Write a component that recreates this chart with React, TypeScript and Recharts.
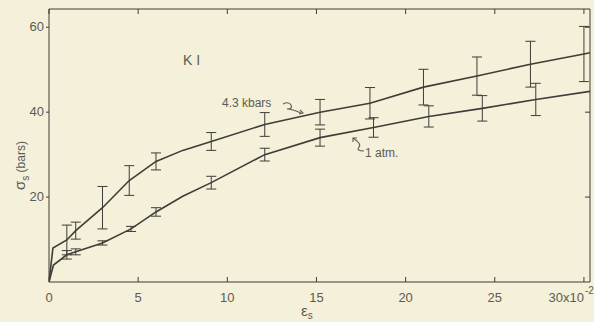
import { LineChart, Line, XAxis, YAxis, ErrorBar } from "recharts";

// strain (x10^-2) and stress (bars)
const highX = [0, 0.22, 1.0, 1.5, 3.0, 4.5, 6.0, 7.5, 9.1, 12.1, 15.2, 18.0, 21.0, 24.0, 27.0, 30.0, 30.34];
const highY = [0, 8.0, 9.9, 12.1, 17.5, 23.9, 28.4, 31.0, 33.1, 37.1, 40.0, 42.1, 45.9, 48.5, 51.3, 53.7, 54.0];
const highErr = [0, 0, 3.5, 2.0, 5.0, 3.5, 2.0, 0, 2.1, 2.8, 3.0, 3.7, 4.2, 4.5, 5.4, 6.5, 0];

const lowX = [0, 0.25, 1.0, 1.5, 3.0, 4.6, 6.0, 7.5, 9.1, 12.1, 15.2, 18.2, 21.3, 24.3, 27.3, 30.34];
const lowY = [0, 4.0, 6.4, 7.1, 9.2, 12.5, 16.5, 20.2, 23.4, 30.0, 34.0, 36.4, 39.0, 40.9, 43.0, 44.9];
const lowErr = [0, 0, 1.0, 0.7, 0.5, 0.6, 1.0, 0, 1.5, 1.5, 2.0, 2.3, 2.5, 3.0, 3.8, 0];

const xTicks = [0, 5, 10, 15, 20, 25, 30];
const yTicks = [20, 40, 60];

const high = highX.map((x, i) => ({ x, y: highY[i], err: highErr[i] }));
const low = lowX.map((x, i) => ({ x, y: lowY[i], err: lowErr[i] }));

const INK = "#3e3d37";
const TEXT = "#5c5b52";
const FONT = "'Liberation Sans', Arial, sans-serif";

const XTick = ({ x, y, payload }: any) => {
  if (payload.value === 30) {
    return (
      <g>
        <text x={x} y={y} textAnchor="end" dominantBaseline="hanging" fill={TEXT} fontSize={13} fontFamily={FONT}>
          30x10
        </text>
        <text x={x + 1} y={y - 5} textAnchor="start" dominantBaseline="hanging" fill={TEXT} fontSize={10} fontFamily={FONT}>
          -2
        </text>
      </g>
    );
  }
  return (
    <text x={x} y={y} textAnchor="middle" dominantBaseline="hanging" fill={TEXT} fontSize={13} fontFamily={FONT}>
      {payload.value}
    </text>
  );
};

const YTick = ({ x, y, payload }: any) => (
  <text x={x} y={y} textAnchor="end" dominantBaseline="middle" fill={TEXT} fontSize={13} fontFamily={FONT}>
    {payload.value}
  </text>
);

const NoTick = () => <g />;

export default function App() {
  return (
    <div
      style={{
        position: "fixed",
        left: 0,
        top: 0,
        width: 594,
        height: 322,
        background: "#f4f0da",
        overflow: "hidden",
      }}
    >
      <LineChart width={594} height={322} margin={{ top: 9, right: 4, left: 19, bottom: 0 }}>
        <XAxis
          xAxisId="b"
          type="number"
          dataKey="x"
          domain={[0, 30.34]}
          allowDataOverflow
          ticks={xTicks}
          interval={0}
          height={40}
          stroke={INK}
          tickSize={-5}
          tickMargin={15}
          tick={<XTick />}
        />
        <XAxis
          xAxisId="t"
          orientation="top"
          type="number"
          dataKey="x"
          domain={[0, 30.34]}
          allowDataOverflow
          ticks={xTicks}
          interval={0}
          height={1}
          mirror
          stroke={INK}
          tickSize={5}
          tick={<NoTick />}
        />
        <YAxis
          yAxisId="l"
          type="number"
          domain={[0, 64.3]}
          allowDataOverflow
          ticks={yTicks}
          interval={0}
          width={30}
          stroke={INK}
          tickSize={3}
          tickMargin={2}
          tick={<YTick />}
        />
        <YAxis
          yAxisId="r"
          orientation="right"
          type="number"
          domain={[0, 64.3]}
          allowDataOverflow
          ticks={yTicks}
          interval={0}
          width={1}
          mirror
          stroke={INK}
          tickSize={5}
          tick={<NoTick />}
        />
        <Line
          xAxisId="b"
          yAxisId="l"
          data={high}
          dataKey="y"
          type="linear"
          stroke={INK}
          strokeWidth={1.6}
          dot={false}
          isAnimationActive={false}
        >
          <ErrorBar dataKey="err" direction="y" width={5} stroke={INK} strokeWidth={1} />
        </Line>
        <Line
          xAxisId="b"
          yAxisId="l"
          data={low}
          dataKey="y"
          type="linear"
          stroke={INK}
          strokeWidth={1.6}
          dot={false}
          isAnimationActive={false}
        >
          <ErrorBar dataKey="err" direction="y" width={5} stroke={INK} strokeWidth={1} />
        </Line>
        {/* invisible series so the top and right frame axes get drawn */}
        <Line
          xAxisId="t"
          yAxisId="r"
          data={low}
          dataKey="y"
          stroke="none"
          dot={false}
          isAnimationActive={false}
        />
      </LineChart>
      <svg
        width={594}
        height={322}
        style={{ position: "absolute", left: 0, top: 0, pointerEvents: "none" }}
        fontFamily={FONT}
      >
        <text x={183} y={65} fill={TEXT} fontSize={14}>
          K I
        </text>
        <text x={222} y={107} fill={TEXT} fontSize={12}>
          4.3 kbars
        </text>
        <path d="M283 104 q6 -3 8 1 q2 4 -4 4 q5 0 14 4" fill="none" stroke={TEXT} strokeWidth={1.1} />
        <path d="M300 110 l3 3 l-4 1" fill="none" stroke={TEXT} strokeWidth={1.1} />
        <text x={365} y={157} fill={TEXT} fontSize={12}>
          1 atm.
        </text>
        <path d="M364 151 q-8 0 -5 -4 q3 -3 -6 -9" fill="none" stroke={TEXT} strokeWidth={1.1} />
        <path d="M353 142 l0 -4 l4 0" fill="none" stroke={TEXT} strokeWidth={1.1} />
        <text transform="translate(25 190) rotate(-90)" fill={TEXT} fontSize={15}>
          σ
          <tspan fontSize={10} dy={4}>
            s
          </tspan>
          <tspan fontSize={12} dy={-4}>
            {" (bars)"}
          </tspan>
        </text>
        <text x={301} y={316} fill={TEXT} fontSize={15}>
          ε
          <tspan fontSize={10} dy={3}>
            s
          </tspan>
        </text>
      </svg>
    </div>
  );
}
